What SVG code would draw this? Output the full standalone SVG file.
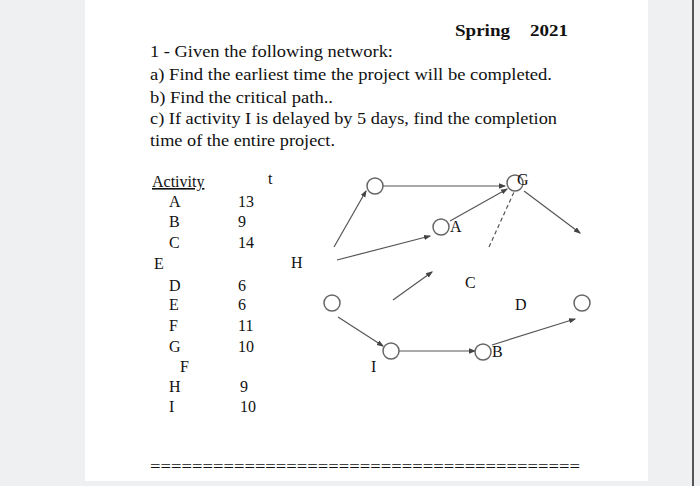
<svg xmlns="http://www.w3.org/2000/svg" width="700" height="486" viewBox="0 0 700 486">
<style>
text{font-family:"Liberation Serif",serif;font-size:16px;fill:#111}
.n{fill:#fff;stroke:#666;stroke-width:1.5}
.c{stroke:#555;stroke-width:1.2;fill:none}
</style>
<defs><marker id="ar" markerWidth="6" markerHeight="6" refX="5" refY="3" orient="auto"><path d="M0,0.8 L6,3 L0,5.2Z" fill="#444"/></marker></defs>
<rect width="700" height="486" fill="#eef0f2"/>
<rect x="85" y="0" width="563" height="481" fill="#fff"/>
<rect x="692" y="0" width="2" height="486" fill="#555"/>
<g id="text">
<text x="455" y="36" font-weight="bold" font-size="18" textLength="55" lengthAdjust="spacingAndGlyphs">Spring</text>
<text x="530" y="36" font-weight="bold" font-size="18" textLength="38" lengthAdjust="spacingAndGlyphs">2021</text>
<text x="150" y="57" font-size="18" textLength="243" lengthAdjust="spacingAndGlyphs">1 - Given the following network:</text>
<text x="150" y="80" font-size="18" textLength="402" lengthAdjust="spacingAndGlyphs">a) Find  the earliest time the project will be completed.</text>
<text x="150" y="103" font-size="18" textLength="183" lengthAdjust="spacingAndGlyphs">b) Find the critical path..</text>
<text x="150" y="124" font-size="18" textLength="407" lengthAdjust="spacingAndGlyphs">c) If activity I is delayed by 5 days, find the completion</text>
<text x="150" y="146" font-size="18" textLength="185" lengthAdjust="spacingAndGlyphs">time of the entire project.</text>
</g>
<g id="table">
<text x="152" y="187" font-size="15" text-decoration="underline">Activity</text>
<text x="268" y="184" font-size="14">t</text>
<text x="169" y="207" font-size="15">A</text><text x="238" y="207" font-size="15">13</text>
<text x="169" y="227" font-size="15">B</text><text x="238" y="227" font-size="15">9</text>
<text x="169" y="248" font-size="15">C</text><text x="238" y="248" font-size="15">14</text>
<text x="154" y="269" font-size="15">E</text>
<text x="169" y="291" font-size="15">D</text><text x="238" y="291" font-size="15">6</text>
<text x="169" y="310" font-size="15">E</text><text x="238" y="310" font-size="15">6</text>
<text x="169" y="331" font-size="15">F</text><text x="238" y="331" font-size="15">11</text>
<text x="169" y="352" font-size="15">G</text><text x="238" y="352" font-size="15">10</text>
<text x="180" y="372" font-size="15">F</text>
<text x="169" y="392" font-size="15">H</text><text x="240" y="392" font-size="15">9</text>
<text x="169" y="412" font-size="15">I</text><text x="240" y="412" font-size="15">10</text>
</g>
<g id="connectors">
<line class="c" x1="334" y1="247" x2="366" y2="191" marker-end="url(#ar)"/>
<line class="c" x1="383" y1="186" x2="505" y2="186" marker-end="url(#ar)"/>
<line class="c" x1="450" y1="221" x2="507" y2="189" marker-end="url(#ar)"/>
<line class="c" x1="337" y1="260" x2="430" y2="236" marker-end="url(#ar)"/>
<line class="c" x1="393" y1="300" x2="432" y2="272" marker-end="url(#ar)"/>
<line class="c" x1="489" y1="247" x2="514" y2="192" stroke-dasharray="4,3"/>
<line class="c" x1="524" y1="191" x2="580" y2="233" marker-end="url(#ar)"/>
<line class="c" x1="338" y1="317" x2="383" y2="346" marker-end="url(#ar)"/>
<line class="c" x1="399" y1="351" x2="475" y2="351" marker-end="url(#ar)"/>
<line class="c" x1="492" y1="345" x2="575" y2="319" marker-end="url(#ar)"/>
</g>
<g id="nodes">
<g id="n1"><circle class="n" cx="375" cy="186" r="8"/></g>
<g id="nG"><circle class="n" cx="515" cy="183" r="8"/><text x="517" y="185" font-size="14">G</text></g>
<g id="nA"><circle class="n" cx="441" cy="227" r="8"/><text x="450" y="232" font-size="15">A</text></g>
<g id="nB"><circle class="n" cx="483" cy="352" r="8"/><text x="492" y="357" font-size="15">B</text></g>
<g id="nL"><circle class="n" cx="332" cy="303" r="8"/></g>
<g id="nI"><circle class="n" cx="391" cy="351" r="8"/></g>
<g id="nR"><circle class="n" cx="582" cy="303" r="8"/></g>
</g>
<g id="labels">
<text x="291" y="268" font-size="15">H</text>
<text x="465" y="288" font-size="15">C</text>
<text x="515" y="310" font-size="15">D</text>
<text x="371" y="372" font-size="15">I</text>
</g>
<text x="150" y="472" font-size="14" textLength="430" lengthAdjust="spacingAndGlyphs">=========================================</text>
</svg>
